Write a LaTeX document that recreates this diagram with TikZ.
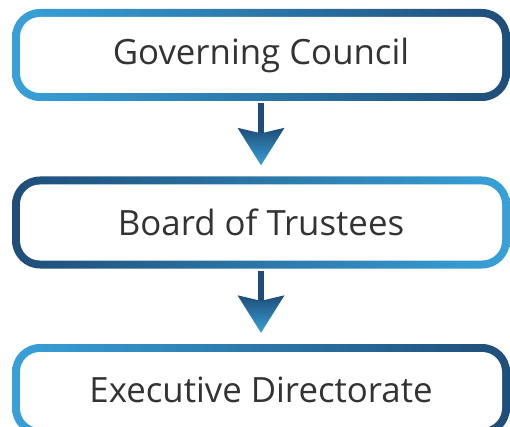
\documentclass[tikz,border=0pt]{standalone}
\usepackage{fontspec}
\setmainfont{Open Sans}
\definecolor{cLight}{HTML}{38A1D8}
\definecolor{cDark}{HTML}{1F4D78}
\definecolor{cText}{HTML}{333333}
\tikzset{
  orgbox/.style={rectangle, rounded corners=28pt, minimum width=498pt, minimum height=92pt,
    inner sep=0pt, text=cText, font=\fontsize{34.8}{40}\selectfont,
    path picture={\fill[white, rounded corners=20pt]
      ([shift={(8pt,8pt)}]path picture bounding box.south west) rectangle
      ([shift={(-8pt,-8pt)}]path picture bounding box.north east);}},
  lightleft/.style={left color=cLight, right color=cDark},
  darkleft/.style={left color=cDark, right color=cLight},
  shaft/.style={draw=cDark, line width=5.6pt},
  headshade/.style={top color=cDark, bottom color=cLight}
}
\begin{document}
\begin{tikzpicture}[x=1pt, y=-1pt]
\useasboundingbox (0,0) rectangle (510,427);
\clip (0,0) rectangle (510,427);
\node[orgbox, lightleft] (b1) at (261,55) {Governing Council};
\node[orgbox, darkleft] (b2) at (261,222.5) {Board of Trustees};
\node[orgbox, lightleft] (b3) at (261,390) {Executive Directorate};
% arrow 1
\coordinate (t1) at ([yshift=11pt]b2.north);
\draw[shaft] ([yshift=-2pt]b1.south) -- ([yshift=43pt]b2.north);
\shade[headshade] ([shift={(-23.5pt,48.5pt)}]b2.north) -- ([yshift=43pt]b2.north) -- ([shift={(23.5pt,48.5pt)}]b2.north) -- (t1) -- cycle;
% arrow 2
\coordinate (t2) at ([yshift=11pt]b3.north);
\draw[shaft] ([yshift=-2pt]b2.south) -- ([yshift=43pt]b3.north);
\shade[headshade] ([shift={(-23.5pt,48.5pt)}]b3.north) -- ([yshift=43pt]b3.north) -- ([shift={(23.5pt,48.5pt)}]b3.north) -- (t2) -- cycle;
\end{tikzpicture}
\end{document}
